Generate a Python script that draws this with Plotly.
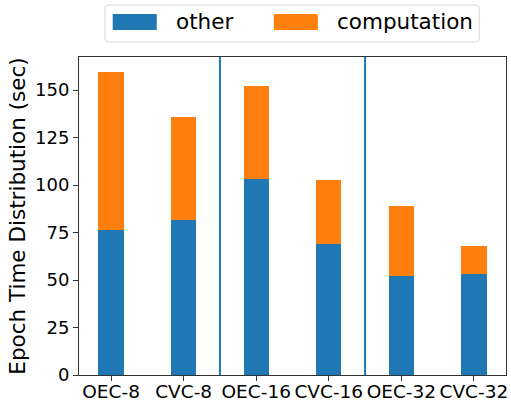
import plotly.graph_objects as go

categories = ["OEC-8", "CVC-8", "OEC-16", "CVC-16", "OEC-32", "CVC-32"]
other = [76.3, 81.6, 103.2, 68.9, 52.3, 53.2]
totals = [159.5, 135.8, 152.1, 102.6, 88.9, 67.9]
computation = [t - o for t, o in zip(totals, other)]
separators = [1.5, 3.5]
yticks = [0, 25, 50, 75, 100, 125, 150]

BLUE = "#1f77b4"
ORANGE = "#ff7f0e"
FONT = "DejaVu Sans"

W, H = 511, 400
L, R, T, B = 79, 5.3, 57, 25
pw, ph = W - L - R, H - T - B

def px_x(x):
    return (x - L) / pw

def px_y(y):
    return (H - B - y) / ph

xs = list(range(len(categories)))
fig = go.Figure()
fig.add_trace(go.Bar(x=xs, y=other, name="other", marker=dict(color=BLUE, line=dict(width=0)), width=0.35))
fig.add_trace(go.Bar(x=xs, y=computation, name="computation", marker=dict(color=ORANGE, line=dict(width=0)), width=0.35))

for s in separators:
    fig.add_shape(type="line", x0=s, x1=s, y0=0, y1=1, xref="x", yref="paper",
                  line=dict(color=BLUE, width=2))

# legend (drawn)
x0, x1, y0, y1, r = px_x(105), px_x(479), px_y(5), px_y(42), 4
rx, ry = r / pw, r / ph
path = (f"M {x0+rx},{y0} L {x1-rx},{y0} Q {x1},{y0} {x1},{y0-ry} "
        f"L {x1},{y1+ry} Q {x1},{y1} {x1-rx},{y1} L {x0+rx},{y1} Q {x0},{y1} {x0},{y1+ry} "
        f"L {x0},{y0-ry} Q {x0},{y0} {x0+rx},{y0} Z")
fig.add_shape(type="path", path=path, xref="paper", yref="paper",
              line=dict(color="#d6d6d6", width=1), fillcolor="rgba(255,255,255,0.8)")
items = [("other", BLUE, 112.7, 174), ("computation", ORANGE, 273.7, 335)]
for name, col, sx, tx in items:
    fig.add_shape(type="rect", xref="paper", yref="paper",
                  x0=px_x(sx), x1=px_x(sx + 44), y0=px_y(14), y1=px_y(30),
                  fillcolor=col, line=dict(width=0))
    fig.add_annotation(text=name, xref="paper", yref="paper", x=px_x(tx), y=px_y(22),
                       xanchor="left", yanchor="middle", showarrow=False,
                       font=dict(family=FONT, size=21.5, color="black"))

fig.update_layout(
    width=W, height=H, barmode="stack", showlegend=False,
    margin=dict(l=L, r=R, t=T, b=B, pad=0, autoexpand=False),
    plot_bgcolor="white", paper_bgcolor="white",
    font=dict(family=FONT, color="black"),
    bargap=0,
)
fig.update_xaxes(range=[-0.4425, 5.4425], tickvals=xs, ticktext=categories,
                 showline=True, linecolor="#333333", linewidth=1, mirror=True,
                 ticks="outside", ticklen=5, tickcolor="#333333", automargin=False,
                 ticklabelstandoff=-5,
                 showgrid=False, zeroline=False, tickfont=dict(size=18.5, family=FONT))
fig.update_yaxes(range=[0, 167.4], tickvals=yticks, automargin=False,
                 showline=True, linecolor="#333333", linewidth=1, mirror=True,
                 ticks="outside", ticklen=5, tickcolor="#333333",
                 showgrid=False, zeroline=False, tickfont=dict(size=18, family=FONT),
                 title=dict(text="Epoch Time Distribution (sec)", font=dict(size=21.5, family=FONT), standoff=3))

fig.write_html("out.html", config={"displayModeBar": False},
               post_script="document.body.style.margin='0';")
